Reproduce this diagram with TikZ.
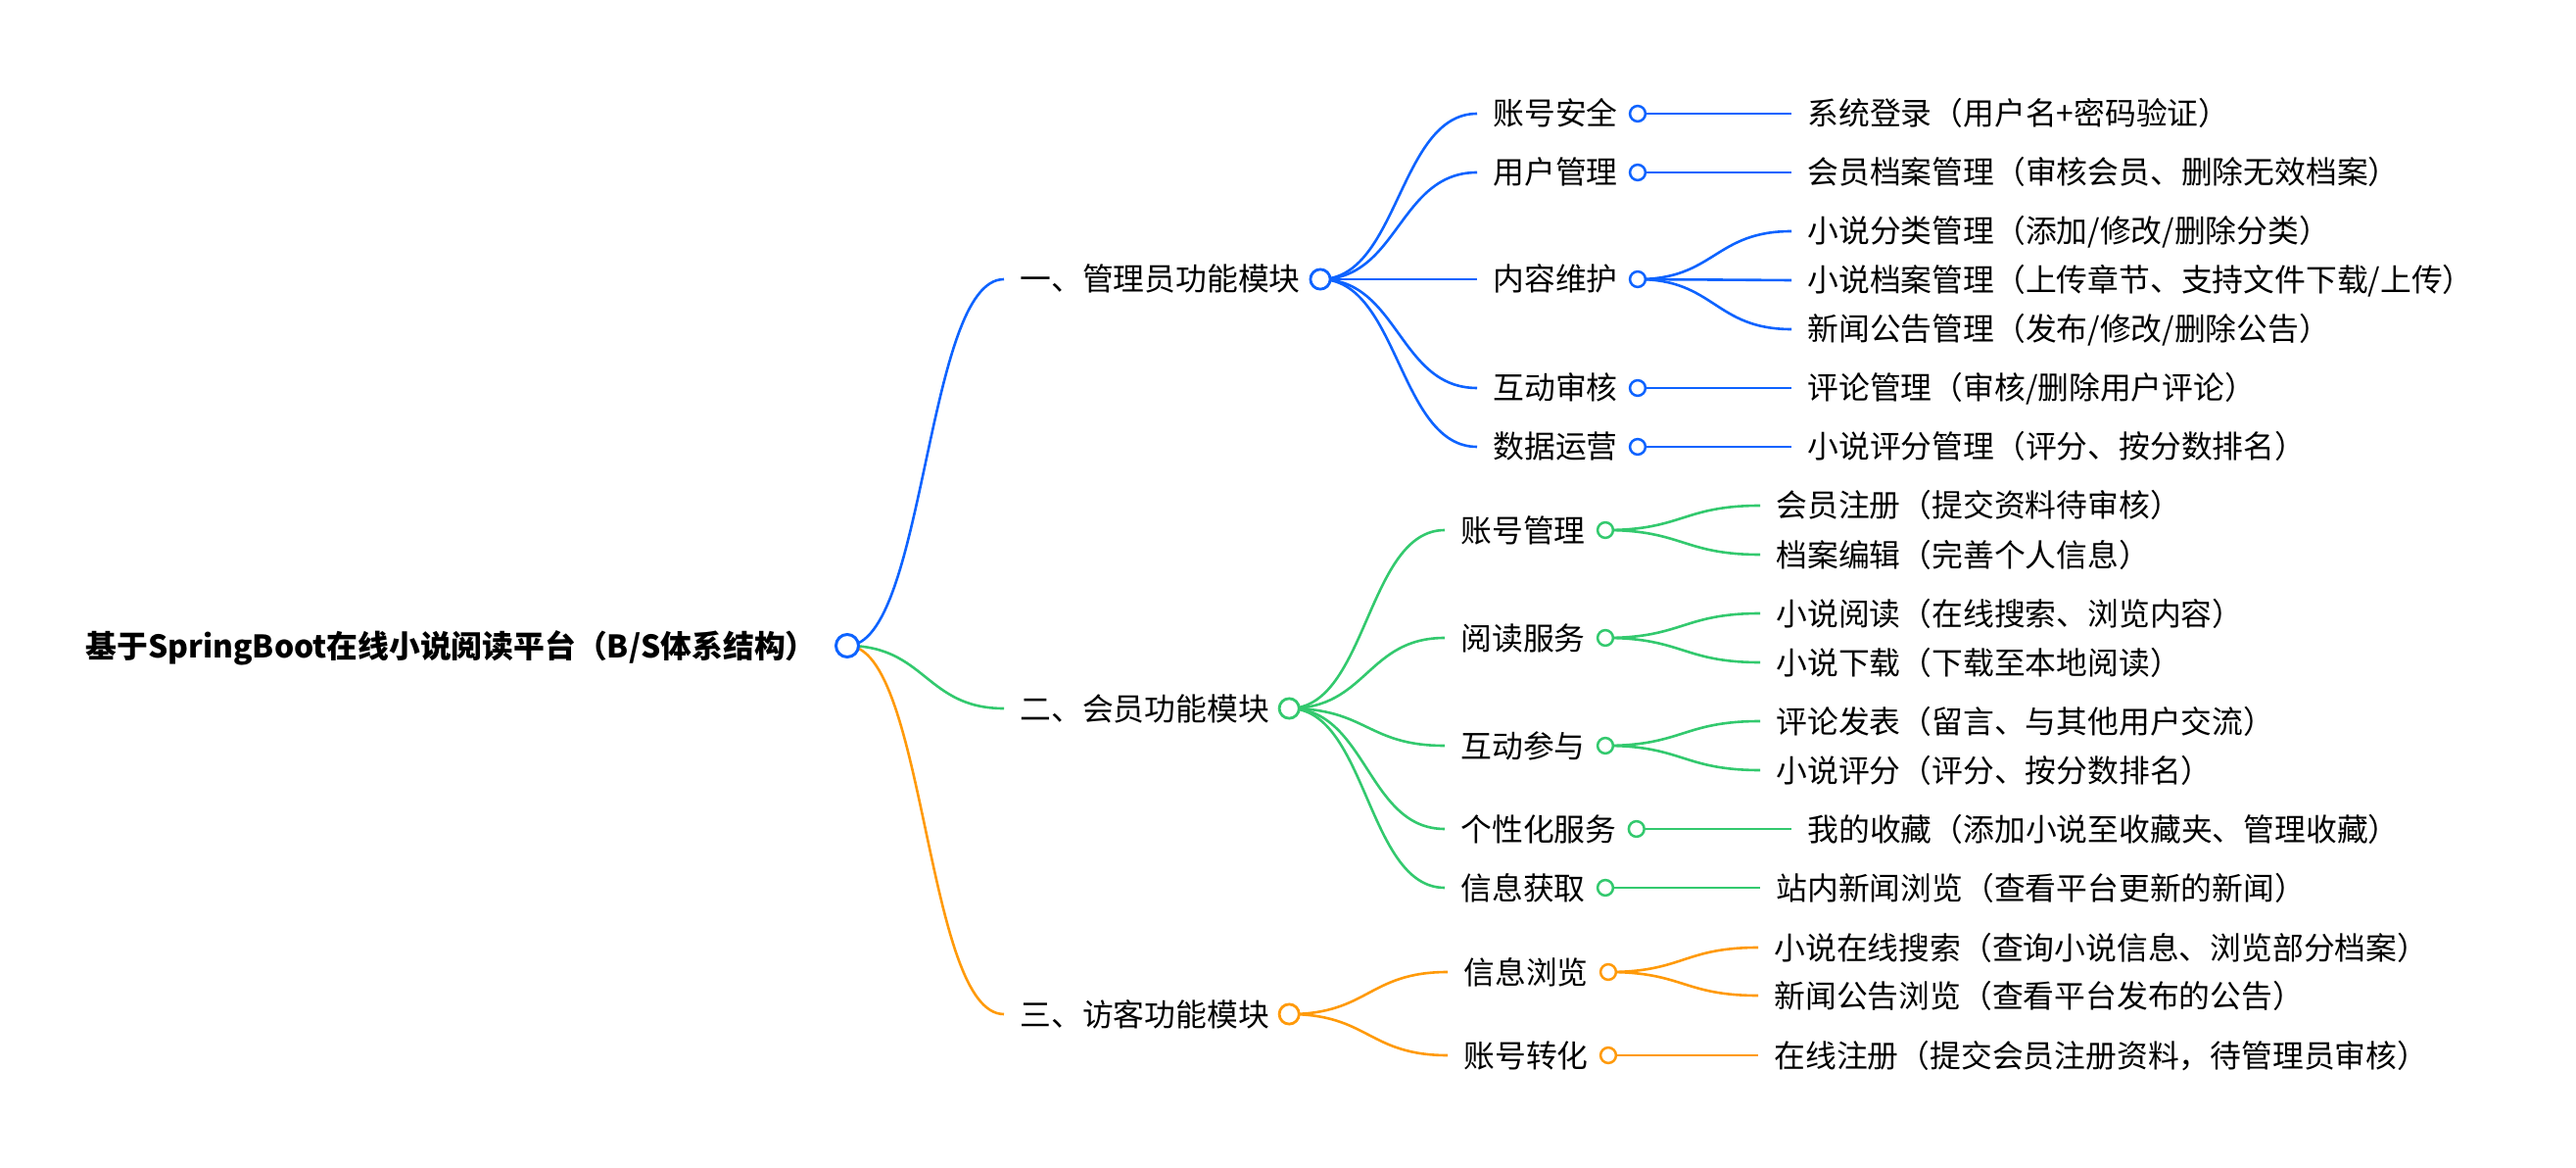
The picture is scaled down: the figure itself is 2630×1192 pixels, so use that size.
\documentclass[tikz,border=0pt]{standalone}
\usepackage{fontspec}
\setmainfont{Noto Sans CJK SC}
\usepackage{xcolor}
\usetikzlibrary{calc, backgrounds}

\definecolor{admblue}{HTML}{0D63FF}
\definecolor{memgreen}{HTML}{33C96E}
\definecolor{visorange}{HTML}{FF9A0A}

\begin{document}
\begin{tikzpicture}[x=0.5pt, y=-0.5pt,
  txt/.style={anchor=west, inner xsep=8pt, inner ysep=0pt, text height=12.6pt, text depth=0.6pt,
    font=\fontsize{15.9}{18}\selectfont},
  roottxt/.style={txt, anchor=east, font=\fontsize{15.9}{18}\selectfont\bfseries},
  rootdot/.style={circle, draw, fill=white, inner sep=0pt, line width=1.5pt, minimum size=11.5pt},
  dotA/.style={circle, draw, fill=white, inner sep=0pt, line width=1.4pt, minimum size=10.1pt},
  dotB/.style={circle, draw, fill=white, inner sep=0pt, line width=1.25pt, minimum size=7.9pt},
  branch/.style={line width=1.3pt, to path={let \p1=(\tikztostart), \p2=(\tikztotarget) in
    .. controls ({(\x1+\x2)/2},\y1) and ({(\x1+\x2)/2},\y2) .. (\tikztotarget)}}
]
\useasboundingbox (0,0) rectangle (2630,1192);

\node[rootdot, draw=admblue] (root-o) at (865,659) {};
\node[roottxt] (root) at ($(root-o)+(-15,0)$) {基于SpringBoot在线小说阅读平台（B/S体系结构）};

% admin
\node[txt] (adm) at (1025,285) {一、管理员功能模块};
\node[dotA, draw=admblue] (adm-o) at ($(adm.east)+(4,0)$) {};

\node[txt] (acc) at (1508,116) {账号安全};
\node[txt] (usr) at (1508,176) {用户管理};
\node[txt] (cnt) at (1508,285) {内容维护};
\node[txt] (rev) at (1508,396) {互动审核};
\node[txt] (ops) at (1508,456) {数据运营};
\node[dotB, draw=admblue] (acc-o) at ($(acc.east)+(4,0)$) {};
\node[dotB, draw=admblue] (usr-o) at ($(usr.east)+(4,0)$) {};
\node[dotB, draw=admblue] (cnt-o) at ($(cnt.east)+(4,0)$) {};
\node[dotB, draw=admblue] (rev-o) at ($(rev.east)+(4,0)$) {};
\node[dotB, draw=admblue] (ops-o) at ($(ops.east)+(4,0)$) {};

\node[txt] (login) at (1829,116) {系统登录（用户名+密码验证）};
\node[txt] (prof) at (1829,176) {会员档案管理（审核会员、删除无效档案）};
\node[txt] (cat) at (1829,236) {小说分类管理（添加/修改/删除分类）};
\node[txt] (book) at (1829,286) {小说档案管理（上传章节、支持文件下载/上传）};
\node[txt] (news) at (1829,336) {新闻公告管理（发布/修改/删除公告）};
\node[txt] (cmt) at (1829,396) {评论管理（审核/删除用户评论）};
\node[txt] (rate) at (1829,456) {小说评分管理（评分、按分数排名）};

% member
\node[txt] (mem) at (1025,723) {二、会员功能模块};
\node[dotA, draw=memgreen] (mem-o) at ($(mem.east)+(4,0)$) {};

\node[txt] (macc) at (1475,541) {账号管理};
\node[txt] (read) at (1475,651) {阅读服务};
\node[txt] (inter) at (1475,761) {互动参与};
\node[txt] (pers) at (1475,846) {个性化服务};
\node[txt] (info) at (1475,906) {信息获取};
\node[dotB, draw=memgreen] (macc-o) at ($(macc.east)+(4,0)$) {};
\node[dotB, draw=memgreen] (read-o) at ($(read.east)+(4,0)$) {};
\node[dotB, draw=memgreen] (inter-o) at ($(inter.east)+(4,0)$) {};
\node[dotB, draw=memgreen] (pers-o) at ($(pers.east)+(4,0)$) {};
\node[dotB, draw=memgreen] (info-o) at ($(info.east)+(4,0)$) {};

\node[txt] (reg) at (1797,516) {会员注册（提交资料待审核）};
\node[txt] (edit) at (1797,566) {档案编辑（完善个人信息）};
\node[txt] (rd) at (1797,626) {小说阅读（在线搜索、浏览内容）};
\node[txt] (dl) at (1797,676) {小说下载（下载至本地阅读）};
\node[txt] (post) at (1797,736) {评论发表（留言、与其他用户交流）};
\node[txt] (score) at (1797,786) {小说评分（评分、按分数排名）};
\node[txt] (fav) at (1829,846) {我的收藏（添加小说至收藏夹、管理收藏）};
\node[txt] (snews) at (1797,906) {站内新闻浏览（查看平台更新的新闻）};

% visitor
\node[txt] (vis) at (1025,1035) {三、访客功能模块};
\node[dotA, draw=visorange] (vis-o) at ($(vis.east)+(4,0)$) {};

\node[txt] (vbrw) at (1478,992) {信息浏览};
\node[txt] (vconv) at (1478,1077) {账号转化};
\node[dotB, draw=visorange] (vbrw-o) at ($(vbrw.east)+(4,0)$) {};
\node[dotB, draw=visorange] (vconv-o) at ($(vconv.east)+(4,0)$) {};

\node[txt] (vsrch) at (1795,967) {小说在线搜索（查询小说信息、浏览部分档案）};
\node[txt] (vnews) at (1795,1016) {新闻公告浏览（查看平台发布的公告）};
\node[txt] (vreg) at (1795,1077) {在线注册（提交会员注册资料，待管理员审核）};

\begin{scope}[on background layer]
\draw[branch, admblue] (root-o.center) to (adm.west);
\draw[branch, memgreen] (root-o.center) to (mem.west);
\draw[branch, visorange] (root-o.center) to (vis.west);

\draw[branch, admblue] (adm-o.center) to (acc.west);
\draw[branch, admblue] (adm-o.center) to (usr.west);
\draw[branch, admblue] (adm-o.center) to (cnt.west);
\draw[branch, admblue] (adm-o.center) to (rev.west);
\draw[branch, admblue] (adm-o.center) to (ops.west);
\draw[branch, admblue] (acc-o.center) to (login.west);
\draw[branch, admblue] (usr-o.center) to (prof.west);
\draw[branch, admblue] (cnt-o.center) to (cat.west);
\draw[branch, admblue] (cnt-o.center) to (book.west);
\draw[branch, admblue] (cnt-o.center) to (news.west);
\draw[branch, admblue] (rev-o.center) to (cmt.west);
\draw[branch, admblue] (ops-o.center) to (rate.west);

\draw[branch, memgreen] (mem-o.center) to (macc.west);
\draw[branch, memgreen] (mem-o.center) to (read.west);
\draw[branch, memgreen] (mem-o.center) to (inter.west);
\draw[branch, memgreen] (mem-o.center) to (pers.west);
\draw[branch, memgreen] (mem-o.center) to (info.west);
\draw[branch, memgreen] (macc-o.center) to (reg.west);
\draw[branch, memgreen] (macc-o.center) to (edit.west);
\draw[branch, memgreen] (read-o.center) to (rd.west);
\draw[branch, memgreen] (read-o.center) to (dl.west);
\draw[branch, memgreen] (inter-o.center) to (post.west);
\draw[branch, memgreen] (inter-o.center) to (score.west);
\draw[branch, memgreen] (pers-o.center) to (fav.west);
\draw[branch, memgreen] (info-o.center) to (snews.west);

\draw[branch, visorange] (vis-o.center) to (vbrw.west);
\draw[branch, visorange] (vis-o.center) to (vconv.west);
\draw[branch, visorange] (vbrw-o.center) to (vsrch.west);
\draw[branch, visorange] (vbrw-o.center) to (vnews.west);
\draw[branch, visorange] (vconv-o.center) to (vreg.west);
\end{scope}

\end{tikzpicture}
\end{document}
